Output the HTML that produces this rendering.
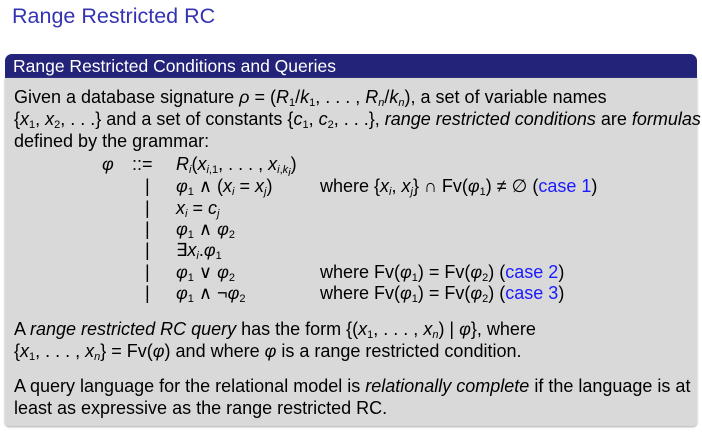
<html><head><style>
body{margin:0;width:702px;height:432px;background:#fff;position:relative;font-family:"Liberation Sans",sans-serif;overflow:hidden}
.t{position:absolute;left:12px;top:4px;font-size:21.5px;color:#3333b3}
.hd{position:absolute;left:5px;top:54px;width:692px;height:24px;background:#23237a;border-radius:7px 7px 0 0;color:#fff;font-size:17.5px;line-height:24px;box-sizing:border-box;padding-left:8px}
.bd{position:absolute;left:5px;top:78px;width:692px;height:348px;background:#d9d9d9;border-radius:0 0 4px 4px;box-shadow:0 1px 2px #aaa}
.l{position:absolute;font-size:18px;color:#000;white-space:nowrap;line-height:20px}
.g{font-size:18px}
i{font-style:italic}
.b{color:#1a1aff}
sub{font-size:11px;vertical-align:-3px}
</style></head><body>
<div class="t">Range Restricted RC</div>
<div class="hd">Range Restricted Conditions and Queries</div>
<div class="bd"></div>
<div class="l" style="left:14px;top:87px">Given a database signature <i>ρ</i> = (<i>R</i><sub>1</sub>/<i>k</i><sub>1</sub>, . . . , <i>R<sub>n</sub></i>/<i>k<sub>n</sub></i>), a set of variable names</div>
<div class="l" style="left:14px;top:109px">{<i>x</i><sub>1</sub>, <i>x</i><sub>2</sub>, . . .} and a set of constants {<i>c</i><sub>1</sub>, <i>c</i><sub>2</sub>, . . .}, <em>range restricted conditions</em> are <em>formulas</em></div>
<div class="l" style="left:14px;top:131px">defined by the grammar:</div>

<div class="l g" style="left:102px;top:154px"><i>φ</i></div>
<div class="l g" style="left:132px;top:154px">::=</div>
<div class="l g" style="left:176px;top:154px"><i>R<sub>i</sub></i>(<i>x</i><sub><i>i</i>,1</sub>, . . . , <i>x</i><sub><i>i</i>,<i>k<sub>i</sub></i></sub>)</div>
<div class="l g" style="left:145px;top:176px">|</div><div class="l g" style="left:176px;top:176px"><i>φ</i><sub>1</sub> ∧ (<i>x<sub>i</sub></i> = <i>x<sub>j</sub></i>)</div>
<div class="l g" style="left:320px;top:176px">where {<i>x<sub>i</sub></i>, <i>x<sub>j</sub></i>} ∩ Fv(<i>φ</i><sub>1</sub>) ≠ ∅ (<span class="b">case 1</span>)</div>
<div class="l g" style="left:145px;top:198px">|</div><div class="l g" style="left:176px;top:198px"><i>x<sub>i</sub></i> = <i>c<sub>j</sub></i></div>
<div class="l g" style="left:145px;top:219px">|</div><div class="l g" style="left:176px;top:219px"><i>φ</i><sub>1</sub> ∧ <i>φ</i><sub>2</sub></div>
<div class="l g" style="left:145px;top:240px">|</div><div class="l g" style="left:176px;top:240px">∃<i>x<sub>i</sub></i>.<i>φ</i><sub>1</sub></div>
<div class="l g" style="left:145px;top:262px">|</div><div class="l g" style="left:176px;top:262px"><i>φ</i><sub>1</sub> ∨ <i>φ</i><sub>2</sub></div>
<div class="l g" style="left:320px;top:262px">where Fv(<i>φ</i><sub>1</sub>) = Fv(<i>φ</i><sub>2</sub>) (<span class="b">case 2</span>)</div>
<div class="l g" style="left:145px;top:283px">|</div><div class="l g" style="left:176px;top:283px"><i>φ</i><sub>1</sub> ∧ ¬<i>φ</i><sub>2</sub></div>
<div class="l g" style="left:320px;top:283px">where Fv(<i>φ</i><sub>1</sub>) = Fv(<i>φ</i><sub>2</sub>) (<span class="b">case 3</span>)</div>

<div class="l" style="left:14px;top:319px">A <em>range restricted RC query</em> has the form {(<i>x</i><sub>1</sub>, . . . , <i>x<sub>n</sub></i>) | <i>φ</i>}, where</div>
<div class="l" style="left:14px;top:341px">{<i>x</i><sub>1</sub>, . . . , <i>x<sub>n</sub></i>} = Fv(<i>φ</i>) and where <i>φ</i> is a range restricted condition.</div>
<div class="l" style="left:14px;top:376px">A query language for the relational model is <em>relationally complete</em> if the language is at</div>
<div class="l" style="left:14px;top:398px">least as expressive as the range restricted RC.</div>
</body></html>
